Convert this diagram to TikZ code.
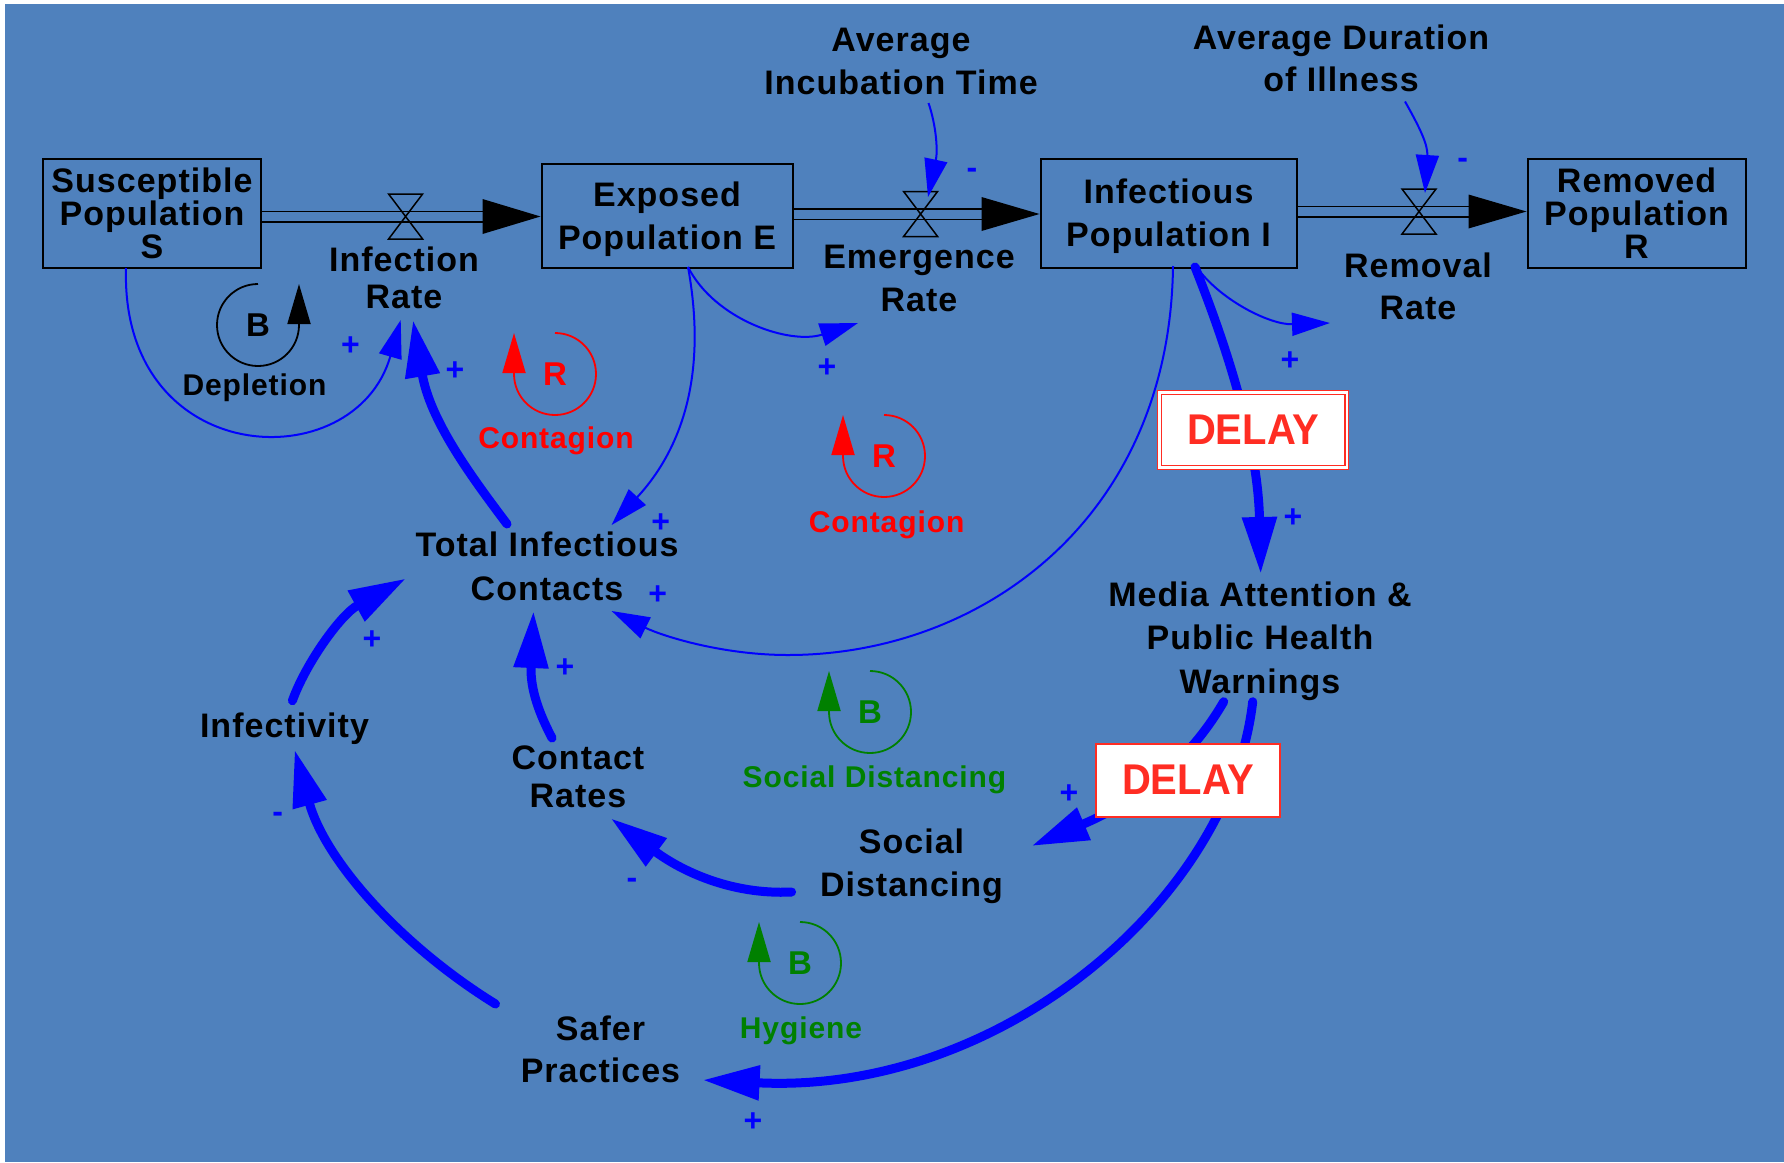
\documentclass[tikz,border=0pt]{standalone}
\usepackage{fontspec}
\setmainfont{Liberation Sans}[LetterSpace=3]
\newfontfamily\delayfont{Liberation Sans}[FakeStretch=0.93]
\usetikzlibrary{arrows.meta}
\definecolor{bgblue}{HTML}{4F81BD}
\definecolor{lnkblue}{HTML}{0000FF}
\definecolor{delayred}{HTML}{FF2D23}
\definecolor{loopred}{HTML}{FF0000}
\definecolor{loopgreen}{HTML}{008000}
\newcommand\myfs[2]{\fontsize{#1}{#2}\selectfont\bfseries}
\begin{document}
\begin{tikzpicture}[x=1pt,y=-1pt,
  stock/.style={draw=black, line width=2pt, inner sep=0pt, align=center},
  lab/.style={inner sep=0pt, align=center, font=\myfs{34}{43}},
  sgn/.style={inner sep=0pt, text=lnkblue, font=\myfs{32}{32}},
  thinlink/.style={draw=lnkblue, line width=2pt, -{Triangle[length=38pt,width=23pt]}},
  boldlink/.style={draw=lnkblue, line width=9pt, line cap=round, -{Triangle[length=57pt,width=33pt]}},
  pipe/.style={draw=black, line width=1.5pt, double=bgblue, double distance=9pt},
  loopline/.style={line width=1.8pt, -{Triangle[length=40pt,width=23pt]}},
  looplett/.style={inner sep=0pt, font=\myfs{33}{33}},
  looplab/.style={inner sep=0pt, font=\myfs{30}{30}},
  delaybox/.style={fill=white, draw=delayred, inner sep=0pt, text=delayred,
    font=\delayfont\fontsize{43}{43}\selectfont\bfseries},
  valve/.pic={\draw[line width=1.5pt] (-17,-22.5) -- (17,-22.5) -- (-17,22.5) -- (17,22.5) -- cycle;}
]
\useasboundingbox (0,0) rectangle (1784,1162);
\fill[white] (0,0) rectangle (1784,1162);
\fill[bgblue] (4.5,4) rectangle (1784,1162);

% stocks
\node[stock, minimum width=218pt, minimum height=109pt, font=\myfs{34}{33}] (S) at (152,213.5) {Susceptible\\Population\\S};
\node[stock, minimum width=251pt, minimum height=103.7pt, font=\myfs{34}{43}] (E) at (667,216) {\rule{0pt}{31pt}Exposed\\Population E};
\node[stock, minimum width=256pt, minimum height=109pt, font=\myfs{34}{43}] (I) at (1168.5,213.5) {\rule{0pt}{31pt}Infectious\\Population I};
\node[stock, minimum width=218pt, minimum height=109pt, font=\myfs{34}{33}] (R) at (1636.5,213.5) {Removed\\Population\\R};

% flows
\coordinate (v1) at (405.6,216.5);
\coordinate (v2) at (920.6,214);
\coordinate (v3) at (1419,211.5);
\path (E.west |- v1) coordinate (e1) (I.west |- v2) coordinate (e2) (R.west |- v3) coordinate (e3);
\draw[pipe, shorten >=55pt] (S.east |- v1) -- (e1);
\draw[pipe, shorten >=55pt] (E.east |- v2) -- (e2);
\draw[pipe, shorten >=55pt] (I.east |- v3) -- (e3);
\fill (e1) -- ++(-58,17.5) -- ++(0,-35) -- cycle;
\fill (e2) -- ++(-58,17) -- ++(0,-34) -- cycle;
\fill (e3) -- ++(-58,17) -- ++(0,-34) -- cycle;
\pic at (v1) {valve};
\pic at (v2) {valve};
\pic at (v3) {valve};

% variables
\node[lab, font=\myfs{34}{37}] (IR) at (404,278) {Infection\\Rate};
\node[lab] (ER) at (919,278) {Emergence\\Rate};
\node[lab, font=\myfs{34}{42}] (RR) at (1418,286) {Removal\\Rate};
\node[lab] (AIT) at (901,61) {Average\\Incubation Time};
\node[lab, font=\myfs{34}{42}] (ADI) at (1341,58) {Average Duration\\of Illness};
\node[lab, font=\myfs{34}{44}] (TIC) at (547,566) {Total Infectious\\Contacts};
\node[lab, font=\myfs{34}{43.5}] (MED) at (1260,641) {Media Attention \&\\Public Health\\Warnings};
\node[lab] (INF) at (284.5,728.5) {Infectivity};
\node[lab, font=\myfs{34}{37.5}] (CR) at (578,777) {Contact\\Rates};
\node[lab] (SD) at (911.5,866.5) {Social\\Distancing};
\node[lab, font=\myfs{34}{42}] (SP) at (600.5,1049) {Safer\\Practices};

% thin links
\draw[thinlink] ([shift={(27.5,42)}]AIT.center) .. controls (936,125) and (938,150) .. ([shift={(7.4,-17)}]v2);
\draw[thinlink] ([shift={(64,43.5)}]ADI.center) .. controls (1420,128) and (1428,145) .. ([shift={(6,-18.5)}]v3);
\draw[thinlink] ([shift={(21,51)}]E.center) .. controls (715,320) and (790,345) .. ([shift={(-61,45)}]ER.center);
\draw[thinlink] ([shift={(28,53.5)}]I.center) .. controls (1220,300) and (1270,325) .. ([shift={(-88,37)}]RR.center);
\draw[thinlink] ([shift={(21,51)}]E.center) .. controls (705,360) and (690,440) .. ([shift={(64.6,-41)}]TIC.center);
\draw[thinlink] ([shift={(4.5,52.5)}]I.center) .. controls (1170,520) and (980,655) .. (788,655) .. controls (720,655) and (660,635) .. ([shift={(64.6,45)}]TIC.center);
\draw[thinlink] ([shift={(-26,54.5)}]S.center) .. controls (120,470) and (355,480) .. ([shift={(-3.3,42)}]IR.center);

% bold links
\draw[boldlink] ([shift={(-40,-42)}]TIC.center) .. controls (470,475) and (430,420) .. ([shift={(9,42)}]IR.center);
\draw[boldlink] ([shift={(26.5,53.5)}]I.center) .. controls (1232,360) and (1258,450) .. ([shift={(0.7,-67)}]MED.center);
\draw[boldlink] ([shift={(-36.3,60.7)}]MED.center) .. controls (1190,760) and (1140,800) .. ([shift={(120,-20.5)}]SD.center);
\draw[boldlink] ([shift={(-7.3,60.7)}]MED.center) .. controls (1230,900) and (1000,1095) .. ([shift={(102.1,31)}]SP.center);
\draw[boldlink] ([shift={(-119.9,25.5)}]SD.center) .. controls (730,895) and (680,870) .. ([shift={(32.7,41.3)}]CR.center);
\draw[boldlink] ([shift={(-105,-45)}]SP.center) .. controls (400,945) and (325,860) .. ([shift={(10.1,21.2)}]INF.center);
\draw[boldlink] ([shift={(7.9,-27.8)}]INF.center) .. controls (305,665) and (340,615) .. ([shift={(-141,12.5)}]TIC.center);
\draw[boldlink] ([shift={(-26,-39)}]CR.center) .. controls (540,715) and (530,690) .. ([shift={(-13.5,45)}]TIC.center);

% delays
\node[delaybox, line width=1.3pt, double=white, double distance=2.5pt, minimum width=187.5pt, minimum height=75pt] (D1) at (1253,430) {DELAY};
\node[delaybox, line width=2pt, minimum width=184pt, minimum height=73pt] (D2) at (1188,780) {DELAY};

% polarity signs
\node[sgn] (s1) at (972,173) {-};
\node[sgn] (s2) at (1462.6,163.7) {-};
\node[sgn] (s3) at (350.4,346.5) {+};
\node[sgn] (s4) at (455,371) {+};
\node[sgn] (s5) at (827,368) {+};
\node[sgn] (s6) at (1290,361) {+};
\node[sgn] (s7) at (660.7,523) {+};
\node[sgn] (s8) at (657.6,595) {+};
\node[sgn] (s9) at (1293,518) {+};
\node[sgn] (s10) at (1069,794) {+};
\node[sgn] (s11) at (753,1122) {+};
\node[sgn] (s12) at (632,883.5) {-};
\node[sgn] (s13) at (277.7,817) {-};
\node[sgn] (s14) at (372,640.6) {+};
\node[sgn] (s15) at (565,668) {+};

% loop markers
\node[looplett] (LB1) at (258,325) {B};
\draw[loopline, draw=black] ([shift={(0,-41)}]LB1.center) arc[start angle=90, end angle=360, radius=41pt] -- ++(0,-41);
\node[looplab] (LB1t) at (254.5,388) {Depletion};

\node[looplett, text=loopred] (LR1) at (555,374) {R};
\draw[loopline, draw=loopred] ([shift={(0,-41)}]LR1.center) arc[start angle=90, end angle=-180, radius=41pt] -- ++(0,-41);
\node[looplab, text=loopred] (LR1t) at (556,441) {Contagion};

\node[looplett, text=loopred] (LR2) at (884,456) {R};
\draw[loopline, draw=loopred] ([shift={(0,-41)}]LR2.center) arc[start angle=90, end angle=-180, radius=41pt] -- ++(0,-41);
\node[looplab, text=loopred] (LR2t) at (886.6,524.5) {Contagion};

\node[looplett, text=loopgreen] (LB2) at (870,712) {B};
\draw[loopline, draw=loopgreen] ([shift={(0,-41)}]LB2.center) arc[start angle=90, end angle=-180, radius=41pt] -- ++(0,-41);
\node[looplab, text=loopgreen] (LB2t) at (874.5,780) {Social Distancing};

\node[looplett, text=loopgreen] (LB3) at (800,963) {B};
\draw[loopline, draw=loopgreen] ([shift={(0,-41)}]LB3.center) arc[start angle=90, end angle=-180, radius=41pt] -- ++(0,-41);
\node[looplab, text=loopgreen] (LB3t) at (801,1031) {Hygiene};
\end{tikzpicture}
\end{document}
